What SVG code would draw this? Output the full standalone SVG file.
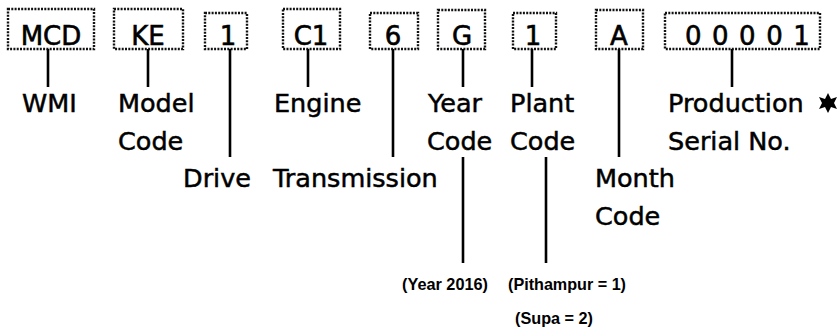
<svg xmlns="http://www.w3.org/2000/svg" width="839" height="329" viewBox="0 0 839 329">
<style>
.box{fill:none;stroke:#111;stroke-width:2.4;stroke-dasharray:2 1.3}
.bt{font-family:"DejaVu Sans",Verdana,sans-serif;font-size:26px;fill:#000;stroke:#000;stroke-width:0.6;text-anchor:middle}
.lb{font-family:"DejaVu Sans",Verdana,sans-serif;font-size:25.5px;fill:#000;stroke:#000;stroke-width:0.5}
.sm{font-family:"Liberation Sans Narrow","Liberation Sans",Arial,sans-serif;font-size:17px;font-weight:bold;fill:#000}
.ln{stroke:#000;stroke-width:2.6;fill:none}
</style>
<rect width="839" height="329" fill="#fff"/>
<g id="n-mcd"><rect class="box" x="8" y="9" width="86" height="40"/><text class="bt" x="51" y="45">MCD</text></g>
<g id="n-ke"><rect class="box" x="114" y="9" width="69" height="40"/><text class="bt" x="148" y="45">KE</text></g>
<g id="n-drive"><rect class="box" x="205" y="13" width="42" height="36"/><text class="bt" x="228" y="45">1</text></g>
<g id="n-c1"><rect class="box" x="283" y="9" width="57" height="40"/><text class="bt" x="311" y="45">C1</text></g>
<g id="n-6"><rect class="box" x="370" y="13" width="48" height="36"/><text class="bt" x="393" y="45">6</text></g>
<g id="n-g"><rect class="box" x="438" y="10" width="47" height="39"/><text class="bt" x="462" y="45">G</text></g>
<g id="n-plant"><rect class="box" x="513" y="13" width="43" height="36"/><text class="bt" x="533" y="45">1</text></g>
<g id="n-a"><rect class="box" x="596" y="10" width="47" height="39"/><text class="bt" x="619" y="45">A</text></g>
<g id="n-serial"><rect class="box" x="665" y="13" width="155" height="36"/><text class="bt" x="685" y="45" letter-spacing="10.5" style="text-anchor:start">00001</text></g>
<g id="connectors">
<line class="ln" x1="48" y1="49" x2="48" y2="87"/>
<line class="ln" x1="148" y1="49" x2="148" y2="87"/>
<line class="ln" x1="230" y1="49" x2="230" y2="157"/>
<line class="ln" x1="308" y1="49" x2="308" y2="87"/>
<line class="ln" x1="393" y1="49" x2="393" y2="157"/>
<line class="ln" x1="463" y1="49" x2="463" y2="87"/>
<line class="ln" x1="532" y1="49" x2="532" y2="87"/>
<line class="ln" x1="619" y1="49" x2="619" y2="157"/>
<line class="ln" x1="732" y1="49" x2="732" y2="87"/>
<line class="ln" x1="463" y1="157" x2="463" y2="263"/>
<line class="ln" x1="546" y1="157" x2="546" y2="263"/>
</g>
<g id="labels">
<text class="lb" x="22" y="112">WMI</text>
<text class="lb" x="118" y="112">Model</text>
<text class="lb" x="118" y="150">Code</text>
<text class="lb" x="274" y="112">Engine</text>
<text class="lb" x="428" y="112">Year</text>
<text class="lb" x="427" y="150">Code</text>
<text class="lb" x="510" y="112">Plant</text>
<text class="lb" x="510" y="150">Code</text>
<text class="lb" x="668" y="112">Production</text>
<text class="lb" x="668" y="150">Serial No.</text>
<text class="lb" x="183" y="187">Drive</text>
<text class="lb" x="273" y="187">Transmission</text>
<text class="lb" x="595" y="187">Month</text>
<text class="lb" x="595" y="225">Code</text>
<text class="sm" x="402" y="290" textLength="86" lengthAdjust="spacingAndGlyphs">(Year 2016)</text>
<text class="sm" x="508" y="290" textLength="118" lengthAdjust="spacingAndGlyphs">(Pithampur = 1)</text>
<text class="sm" x="515" y="324" textLength="78" lengthAdjust="spacingAndGlyphs">(Supa = 2)</text>
</g>
<polygon id="star" fill="#000" points="828,93 831,99 837,97 834,103 837,109 831,107 828,113 825,107 819,109 822,103 819,97 825,99"/>
</svg>
